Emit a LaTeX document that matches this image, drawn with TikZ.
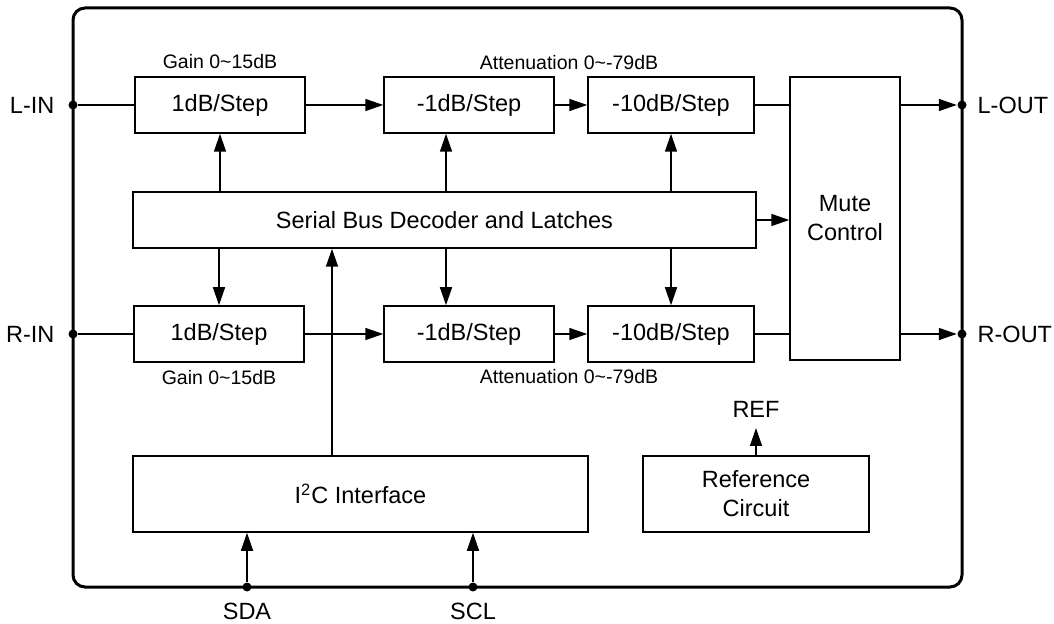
\documentclass[tikz,border=0pt]{standalone}
\usepackage{fontspec}
\setmainfont{Liberation Sans}
\usetikzlibrary{arrows.meta,positioning}

\begin{document}
\begin{tikzpicture}[x=0.5pt, y=-0.5pt, >={Triangle[length=9pt,width=6pt]}, line width=0.75pt,
    every node/.style={font=\fontsize{11.75}{14.5}\selectfont},
    blk/.style={draw, minimum height=28pt, inner sep=0pt, align=center},
    lbl/.style={font=\fontsize{9.75}{12}\selectfont},
    term/.style={circle, fill, inner sep=0pt, minimum size=4.5pt}]
    \useasboundingbox (0,0) rectangle (1054,624);

    % Chip outline
    \draw[line width=1.5pt, rounded corners=6pt] (73,8) rectangle (962,587);

    % Gain stages
    \node[blk, minimum width=85pt] (gainL) at (220,105) {1dB/Step};
    \node[blk, minimum width=85pt] (gainR) at (219,334) {1dB/Step};
    \node[lbl, above=0pt of gainL] (gainLtxt) {Gain 0\textasciitilde15dB};
    \node[lbl, below=0pt of gainR] (gainRtxt) {Gain 0\textasciitilde15dB};

    % Attenuators
    \node[blk, minimum width=85pt] (attL1) at (469,105) {-1dB/Step};
    \node[blk, minimum width=83pt] (attL10) at (671,105) {-10dB/Step};
    \node[blk, minimum width=85pt] (attR1) at (469,334) {-1dB/Step};
    \node[blk, minimum width=83pt] (attR10) at (671,334) {-10dB/Step};
    \node[lbl, anchor=south] (attLtxt) at (569,77) {Attenuation 0\textasciitilde-79dB};
    \node[lbl, anchor=north] (attRtxt) at (569,362) {Attenuation 0\textasciitilde-79dB};

    % Decoder, mute, interface, reference
    \node[blk, minimum width=311.5pt] (dec) at (444.5,220) {Serial Bus Decoder and Latches};
    \node[blk, minimum width=55pt, minimum height=141.5pt] (mute) at (845,218.5) {Mute\\Control};
    \node[blk, minimum width=227.5pt, minimum height=38pt] (i2c) at (360.5,494) {I\textsuperscript{2}C Interface};
    \node[blk, minimum width=113pt, minimum height=38pt] (ref) at (756,494) {Reference\\Circuit};

    % Pins
    \node[term] (lin) at (73,105) {};
    \node[term] (rin) at (73,334) {};
    \node[term] (lout) at (962,105) {};
    \node[term] (rout) at (962,334) {};
    \node[term] (sda) at (247,587) {};
    \node[term] (scl) at (473,587) {};
    \coordinate (refo) at (756,428);
    \node[left=3pt of lin] (lintxt) {L-IN};
    \node[left=3pt of rin] (rintxt) {R-IN};
    \node[right=1.5pt of lout] (louttxt) {L-OUT};
    \node[right=1.5pt of rout] (routtxt) {R-OUT};
    \node[below=1.5pt of sda] (sdatxt) {SDA};
    \node[below=1.5pt of scl] (scltxt) {SCL};
    \node[above=1.5pt of refo] (reftxt) {REF};

    % Signal path
    \draw (lin) -- (gainL);
    \draw[->] (gainL) -- (attL1);
    \draw[->] (attL1) -- (attL10);
    \draw (attL10) -- (attL10 -| mute.west);
    \draw[->] (mute.east |- lout) -- (lout);
    \draw (rin) -- (gainR);
    \draw[->] (gainR) -- (attR1);
    \draw[->] (attR1) -- (attR10);
    \draw (attR10) -- (attR10 -| mute.west);
    \draw[->] (mute.east |- rout) -- (rout);

    % Control lines
    \coordinate (tap1) at (446,0);
    \coordinate (bus) at (332,0);
    \draw[->] (dec.north -| gainL) -- (gainL);
    \draw[->] (tap1 |- dec.north) -- (tap1 |- attL1.south);
    \draw[->] (dec.north -| attL10) -- (attL10);
    \draw[->] (dec.south -| gainR) -- (gainR);
    \draw[->] (tap1 |- dec.south) -- (tap1 |- attR1.north);
    \draw[->] (dec.south -| attR10) -- (attR10);
    \draw[->] (dec) -- (dec -| mute.west);
    \draw[->] (bus |- i2c.north) -- (bus |- dec.south);
    \draw[->] (sda) -- (sda |- i2c.south);
    \draw[->] (scl) -- (scl |- i2c.south);
    \draw[->] (ref) -- (refo);
\end{tikzpicture}
\end{document}
